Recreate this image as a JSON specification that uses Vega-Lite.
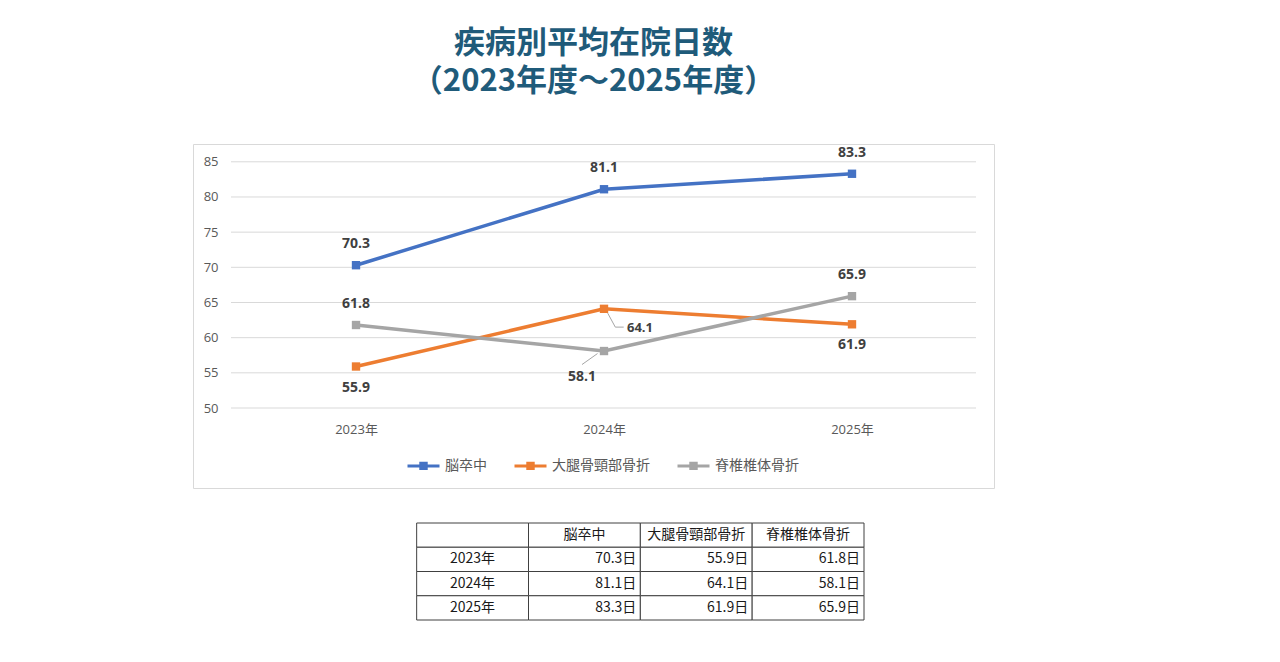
{
  "$schema": "https://vega.github.io/schema/vega-lite/v6.json",
  "background": "white",
  "padding": {"left": 192, "top": 27, "right": 10, "bottom": 10},
  "title": {
    "text": ["疾病別平均在院日数", "（2023年度～2025年度）"],
    "anchor": "middle",
    "font": "Noto Sans CJK JP",
    "fontSize": 31,
    "fontWeight": "bold",
    "color": "#1f5b7a",
    "lineHeight": 38,
    "baseline": "top",
    "offset": 46
  },
  "datasets": {
    "stay": [
      {"year": 2023, "series": "脳卒中", "value": 70.3},
      {"year": 2023, "series": "大腿骨頸部骨折", "value": 55.9},
      {"year": 2023, "series": "脊椎椎体骨折", "value": 61.8},
      {"year": 2024, "series": "脳卒中", "value": 81.1},
      {"year": 2024, "series": "大腿骨頸部骨折", "value": 64.1},
      {"year": 2024, "series": "脊椎椎体骨折", "value": 58.1},
      {"year": 2025, "series": "脳卒中", "value": 83.3},
      {"year": 2025, "series": "大腿骨頸部骨折", "value": 61.9},
      {"year": 2025, "series": "脊椎椎体骨折", "value": 65.9}
    ]
  },
  "config": {"font": "Noto Sans CJK JP", "view": {"stroke": null}},
  "resolve": {"scale": {"x": "independent", "y": "independent"}},
  "spacing": 33,
  "vconcat": [
    {
      "width": 801,
      "height": 344,
      "view": {"stroke": "#d9d9d9", "strokeWidth": 1},
      "data": {"name": "stay"},
      "layer": [
        {
          "data": {"values": [
            {"tick": 50}, {"tick": 55}, {"tick": 60}, {"tick": 65},
            {"tick": 70}, {"tick": 75}, {"tick": 80}, {"tick": 85}
          ]},
          "mark": {"type": "rule", "strokeWidth": 1, "color": "#d9d9d9", "xOffset": 38, "x2Offset": -18},
          "encoding": {
            "y": {"field": "tick", "type": "quantitative", "title": null},
            "x": {"value": 0},
            "x2": {"value": "width"}
          }
        },
        {
          "mark": {"type": "line", "strokeWidth": 3.5},
          "encoding": {
            "x": {
              "field": "year",
              "type": "quantitative",
              "title": null,
              "scale": {"domain": [2022.3427, 2025.5726], "nice": false, "zero": false},
              "axis": {
                "values": [2023, 2024, 2025],
                "labelExpr": "datum.value + '年'",
                "offset": -80,
                "domain": false,
                "ticks": false,
                "grid": false,
                "labelPadding": 15,
                "labelFlush": false,
                "labelFont": "Open Sans, Noto Sans CJK JP",
                "labelFontSize": 13,
                "labelColor": "#595959"
              }
            },
            "y": {
              "field": "value",
              "type": "quantitative",
              "title": null,
              "scale": {"domain": [38.63, 87.53], "nice": false, "zero": false},
              "axis": {
                "values": [50, 55, 60, 65, 70, 75, 80, 85],
                "offset": -38,
                "domain": false,
                "ticks": false,
                "grid": false,
                "labelPadding": 13,
                "labelFont": "Open Sans",
                "labelFontSize": 13,
                "labelColor": "#595959"
              }
            },
            "color": {
              "field": "series",
              "type": "nominal",
              "scale": {
                "domain": ["脳卒中", "大腿骨頸部骨折", "脊椎椎体骨折"],
                "range": ["#4472C4", "#ED7D31", "#A5A5A5"]
              },
              "legend": {
                "title": null,
                "orient": "none",
                "legendX": 213,
                "legendY": 304,
                "direction": "horizontal",
                "padding": 0,
                "symbolType": "M-1,0H1M-0.17,-0.17H0.17V0.17H-0.17Z",
                "symbolSize": 1024,
                "symbolStrokeWidth": 3,
                "labelFont": "Noto Sans CJK JP",
                "labelFontSize": 14,
                "labelColor": "#595959",
                "labelOffset": 4,
                "columnPadding": 21,
                "encode": {
                  "symbols": {
                    "update": {
                      "fill": {"scale": "color", "field": "value"},
                      "stroke": {"scale": "color", "field": "value"},
                      "opacity": {"value": 1}
                    }
                  }
                }
              }
            }
          }
        },
        {
          "mark": {"type": "point", "shape": "square", "filled": true, "size": 70, "opacity": 1},
          "encoding": {
            "x": {"field": "year", "type": "quantitative", "title": null},
            "y": {"field": "value", "type": "quantitative", "title": null},
            "color": {"field": "series", "type": "nominal"}
          }
        },
        {
          "transform": [{"filter": "datum.series === '脳卒中' || (datum.series === '脊椎椎体骨折' && datum.year !== 2024)"}],
          "mark": {"type": "text", "dy": -21, "font": "Open Sans", "fontWeight": "bold", "fontSize": 14, "baseline": "middle", "color": "#404040"},
          "encoding": {
            "x": {"field": "year", "type": "quantitative", "title": null},
            "y": {"field": "value", "type": "quantitative", "title": null},
            "text": {"field": "value", "type": "quantitative", "format": ".1f"}
          }
        },
        {
          "transform": [{"filter": "datum.series === '大腿骨頸部骨折' && datum.year !== 2024"}],
          "mark": {"type": "text", "dy": 21, "font": "Open Sans", "fontWeight": "bold", "fontSize": 14, "baseline": "middle", "color": "#404040"},
          "encoding": {
            "x": {"field": "year", "type": "quantitative", "title": null},
            "y": {"field": "value", "type": "quantitative", "title": null},
            "text": {"field": "value", "type": "quantitative", "format": ".1f"}
          }
        },
        {
          "transform": [{"filter": "datum.series === '大腿骨頸部骨折' && datum.year === 2024"}],
          "mark": {"type": "text", "dx": 23, "dy": 19, "align": "left", "font": "Open Sans", "fontWeight": "bold", "fontSize": 13, "baseline": "middle", "color": "#404040"},
          "encoding": {
            "x": {"field": "year", "type": "quantitative", "title": null},
            "y": {"field": "value", "type": "quantitative", "title": null},
            "text": {"field": "value", "type": "quantitative", "format": ".1f"}
          }
        },
        {
          "transform": [{"filter": "datum.series === '脊椎椎体骨折' && datum.year === 2024"}],
          "mark": {"type": "text", "dx": -22, "dy": 26, "font": "Open Sans", "fontWeight": "bold", "fontSize": 14, "baseline": "middle", "color": "#404040"},
          "encoding": {
            "x": {"field": "year", "type": "quantitative", "title": null},
            "y": {"field": "value", "type": "quantitative", "title": null},
            "text": {"field": "value", "type": "quantitative", "format": ".1f"}
          }
        },
        {
          "transform": [{"filter": "datum.series === '大腿骨頸部骨折' && datum.year === 2024"}],
          "mark": {"type": "rule", "strokeWidth": 1, "color": "#a6a6a6", "xOffset": 3.7, "yOffset": 4.3, "x2Offset": 11.3, "y2Offset": 18.3},
          "encoding": {
            "x": {"field": "year", "type": "quantitative", "title": null},
            "y": {"field": "value", "type": "quantitative", "title": null},
            "x2": {"field": "year"},
            "y2": {"field": "value"}
          }
        },
        {
          "transform": [{"filter": "datum.series === '大腿骨頸部骨折' && datum.year === 2024"}],
          "mark": {"type": "rule", "strokeWidth": 1, "color": "#a6a6a6", "xOffset": 11.3, "yOffset": 18.3, "x2Offset": 19.7, "y2Offset": 18.3},
          "encoding": {
            "x": {"field": "year", "type": "quantitative", "title": null},
            "y": {"field": "value", "type": "quantitative", "title": null},
            "x2": {"field": "year"},
            "y2": {"field": "value"}
          }
        },
        {
          "transform": [{"filter": "datum.series === '脊椎椎体骨折' && datum.year === 2024"}],
          "mark": {"type": "rule", "strokeWidth": 1, "color": "#a6a6a6", "xOffset": -6.5, "yOffset": 2.5, "x2Offset": -22, "y2Offset": 13.5},
          "encoding": {
            "x": {"field": "year", "type": "quantitative", "title": null},
            "y": {"field": "value", "type": "quantitative", "title": null},
            "x2": {"field": "year"},
            "y2": {"field": "value"}
          }
        }
      ]
    },
    {
      "width": 671,
      "height": 97,
      "view": {"stroke": null},
      "data": {"name": "stay"},
      "layer": [
        {
          "transform": [{"aggregate": [{"op": "count", "as": "n"}]}],
          "mark": {"type": "rect", "fill": "white", "stroke": "#404040", "strokeWidth": 1},
          "encoding": {
            "x": {"datum": "年", "type": "nominal", "axis": null,
                  "scale": {"type": "band", "domain": ["年", "脳卒中", "大腿骨頸部骨折", "脊椎椎体骨折"], "paddingInner": 0, "paddingOuter": 1, "align": 1}},
            "y": {"datum": "見出し", "type": "nominal", "axis": null,
                  "scale": {"type": "band", "domain": ["見出し", "2023年", "2024年", "2025年"], "paddingInner": 0, "paddingOuter": 0}}
          }
        },
        {
          "transform": [{"aggregate": [{"op": "count", "as": "n"}], "groupby": ["series"]}],
          "mark": {"type": "rect", "fill": "white", "stroke": "#404040", "strokeWidth": 1},
          "encoding": {
            "x": {"field": "series", "type": "nominal", "axis": null},
            "y": {"datum": "見出し", "type": "nominal", "axis": null}
          }
        },
        {
          "transform": [
            {"aggregate": [{"op": "count", "as": "n"}], "groupby": ["year"]},
            {"calculate": "datum.year + '年'", "as": "yearLabel"}
          ],
          "mark": {"type": "rect", "fill": "white", "stroke": "#404040", "strokeWidth": 1},
          "encoding": {
            "x": {"datum": "年", "type": "nominal", "axis": null},
            "y": {"field": "yearLabel", "type": "nominal", "axis": null}
          }
        },
        {
          "transform": [{"calculate": "datum.year + '年'", "as": "yearLabel"}],
          "mark": {"type": "rect", "fill": "white", "stroke": "#404040", "strokeWidth": 1},
          "encoding": {
            "x": {"field": "series", "type": "nominal", "axis": null},
            "y": {"field": "yearLabel", "type": "nominal", "axis": null}
          }
        },
        {
          "transform": [{"aggregate": [{"op": "count", "as": "n"}], "groupby": ["series"]}],
          "mark": {"type": "text", "fontSize": 14, "color": "#1a1a1a", "baseline": "middle"},
          "encoding": {
            "x": {"field": "series", "type": "nominal", "axis": null},
            "y": {"datum": "見出し", "type": "nominal", "axis": null},
            "text": {"field": "series", "type": "nominal"}
          }
        },
        {
          "transform": [
            {"aggregate": [{"op": "count", "as": "n"}], "groupby": ["year"]},
            {"calculate": "datum.year + '年'", "as": "yearLabel"}
          ],
          "mark": {"type": "text", "fontSize": 14, "color": "#1a1a1a", "baseline": "middle"},
          "encoding": {
            "x": {"datum": "年", "type": "nominal", "axis": null},
            "y": {"field": "yearLabel", "type": "nominal", "axis": null},
            "text": {"field": "yearLabel", "type": "nominal"}
          }
        },
        {
          "transform": [
            {"calculate": "datum.year + '年'", "as": "yearLabel"},
            {"calculate": "format(datum.value, '.1f') + '日'", "as": "valueLabel"}
          ],
          "mark": {"type": "text", "fontSize": 14, "color": "#1a1a1a", "baseline": "middle", "align": "right", "dx": -4},
          "encoding": {
            "x": {"field": "series", "type": "nominal", "axis": null, "bandPosition": 1},
            "y": {"field": "yearLabel", "type": "nominal", "axis": null},
            "text": {"field": "valueLabel", "type": "nominal"}
          }
        }
      ]
    }
  ]
}
